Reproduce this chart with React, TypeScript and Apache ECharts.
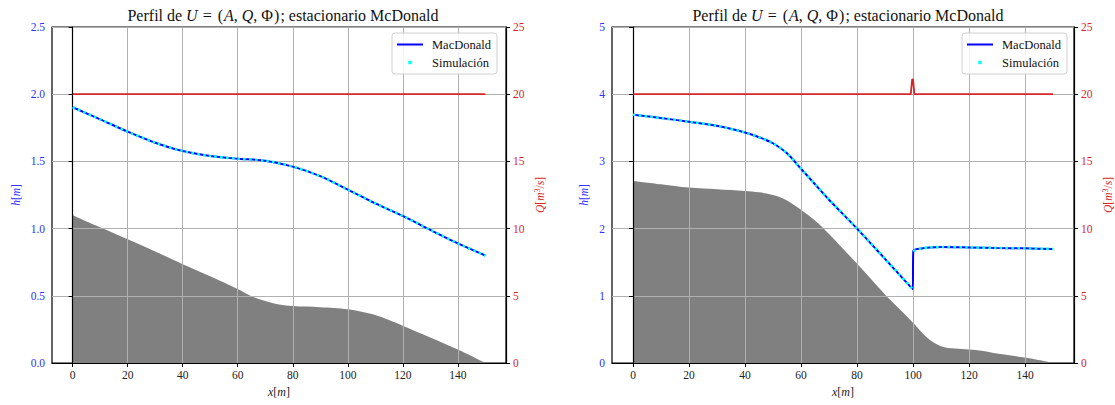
import React, { useEffect, useRef } from 'react';
import * as echarts from 'echarts';

const FONT = "'Liberation Serif', 'DejaVu Serif', serif";
const xTicks = [0, 20, 40, 60, 80, 100, 120, 140];

// Left chart
const leftBedX = [0, 10, 20, 30, 40, 50, 60, 65, 70, 75, 80, 85, 90, 95, 100, 105, 110, 115, 120, 130, 140, 150];
const leftBedZ = [1.10, 1.01, 0.92, 0.83, 0.735, 0.645, 0.55, 0.497, 0.462, 0.436, 0.425, 0.42, 0.415, 0.41, 0.40, 0.382, 0.357, 0.32, 0.278, 0.19, 0.10, 0.0];
const leftSurfX = [0, 10, 20, 30, 40, 50, 60, 70, 80, 90, 100, 110, 120, 130, 140, 150];
const leftSurfH = [1.903, 1.813, 1.721, 1.639, 1.577, 1.54, 1.52, 1.505, 1.461, 1.39, 1.29, 1.187, 1.094, 0.99, 0.89, 0.80];
const leftQX = [0, 150];
const leftQ = [20, 20];

// Right chart
const rightBedX = [0, 10, 20, 30, 40, 45, 50, 55, 60, 65, 70, 75, 80, 85, 90, 95, 100, 105, 110, 115, 120, 125, 130, 140, 150];
const rightBedZ = [2.71, 2.66, 2.61, 2.585, 2.56, 2.54, 2.5, 2.42, 2.28, 2.12, 1.92, 1.7, 1.48, 1.25, 1.02, 0.81, 0.6, 0.38, 0.25, 0.215, 0.2, 0.18, 0.14, 0.08, 0.0];
const rightSurfX = [0, 10, 20, 30, 40, 45, 50, 55, 60, 65, 70, 80, 90, 99.9, 100.1, 103, 106, 110, 120, 130, 140, 150];
const rightSurfH = [3.695, 3.645, 3.59, 3.53, 3.43, 3.36, 3.27, 3.12, 2.89, 2.66, 2.43, 2.0, 1.55, 1.1, 1.665, 1.705, 1.72, 1.726, 1.72, 1.712, 1.706, 1.696];
const rightQX = [0, 99.2, 99.7, 100.0, 100.5, 150];
const rightQ = [20, 20, 21.1, 21.1, 20, 20];
const jumpX = 100;

const zip = (xs: number[], ys: number[]) => xs.map((x, i) => [x, ys[i]]);
const withGap = (xs: number[], ys: number[], gx: number) => {
  const out: any[] = [];
  xs.forEach((x, i) => {
    if (i > 0 && xs[i - 1] < gx && x >= gx) out.push([gx, '-']);
    out.push([x, ys[i]]);
  });
  return out;
};

const BLUE_TXT = '#3030ff';
const RED = '#d62728';
const SIM_ICON = 'path://M0,0M26,12M11.3,4.3h3.4v3.4h-3.4z';
const LINE_ICON = 'path://M0,0M26,12M0,5h26v2h-26z';

const richItalic = (size: number, color: string) => ({
  i: { fontStyle: 'italic', fontSize: size, color, fontFamily: FONT },
  n: { fontSize: size, color, fontFamily: FONT },
  e: { fontSize: size, color, fontFamily: FONT, padding: [0, 5, 0, 5] },
  c: { fontSize: size, color, fontFamily: FONT, padding: [0, 4, 0, 0] },
  p: { fontSize: size, color, fontFamily: FONT, padding: [0, 1, 0, 1] },
  s: { fontSize: size * 0.7, color, fontFamily: FONT, verticalAlign: 'top', padding: [0, 0, 6, 0] },
});

export default function App() {
  const ref = useRef<HTMLDivElement>(null);
  useEffect(() => {
    const chart = echarts.init(ref.current!, undefined, { renderer: 'svg' });
    const grids = [
      { left: 52, top: 27, width: 454, height: 336 },
      { left: 612, top: 27, width: 462, height: 336 },
    ];
    const hMax = [2.5, 5];
    const hInt = [0.5, 1];
    const titleCenters = [278, 843];
    const legendLefts = [392, 962];

    const xAxes: any[] = [];
    const yAxes: any[] = [];
    const series: any[] = [];
    const titles: any[] = [];
    const legends: any[] = [];

    const datasets = [
      { bed: zip(leftBedX, leftBedZ), surf: zip(leftSurfX, leftSurfH), sim: zip(leftSurfX, leftSurfH), q: zip(leftQX, leftQ) },
      { bed: zip(rightBedX, rightBedZ), surf: zip(rightSurfX, rightSurfH), sim: withGap(rightSurfX, rightSurfH, jumpX), q: zip(rightQX, rightQ) },
    ];

    for (let g = 0; g < 2; g++) {
      xAxes.push({
        type: 'value', gridIndex: g, min: -7.5, max: 157.5, z: 2,
        name: '{i|x}[{i|m}]', nameLocation: 'middle', nameGap: 23,
        nameTextStyle: { rich: richItalic(12, '#222'), fontFamily: FONT, fontSize: 12, color: '#222' },
        axisLine: { show: true, onZero: false, lineStyle: { color: '#000', width: 1.2 } },
        axisTick: { show: true, length: 4, customValues: xTicks, lineStyle: { color: '#000' } },
        axisLabel: { customValues: xTicks, margin: 6, fontFamily: FONT, fontSize: 11.5, color: '#222' },
        splitLine: { show: true, lineStyle: { color: '#b0b0b0', width: 1 } },
      });
      yAxes.push({
        type: 'value', gridIndex: g, min: 0, max: hMax[g], interval: hInt[g], position: 'left', z: 2,
        name: '{i|h}[{i|m}]', nameLocation: 'middle', nameGap: g === 0 ? 30 : 22, nameRotate: 90,
        nameTextStyle: { rich: richItalic(11.5, BLUE_TXT), fontFamily: FONT, fontSize: 11.5, color: BLUE_TXT },
        axisLine: { show: true, lineStyle: { color: '#000', width: 1.2 } },
        axisTick: { show: true, length: 4, lineStyle: { color: '#000' } },
        axisLabel: { margin: 7, fontFamily: FONT, fontSize: 11.5, color: BLUE_TXT, formatter: (v: number) => g === 0 ? v.toFixed(1) : String(v) },
        splitLine: { show: true, lineStyle: { color: '#b0b0b0', width: 1 } },
      });
      yAxes.push({
        type: 'value', gridIndex: g, min: 0, max: 25, interval: 5, position: 'right', z: 2,
        name: '{i|Q}[{i|m}{s|3}/{i|s}]', nameLocation: 'middle', nameGap: 27, nameRotate: 90,
        nameTextStyle: { rich: richItalic(11.5, RED), fontFamily: FONT, fontSize: 11.5, color: RED },
        axisLine: { show: true, lineStyle: { color: '#000', width: 1.2 } },
        axisTick: { show: true, length: 4, lineStyle: { color: '#000' } },
        axisLabel: { margin: 7, fontFamily: FONT, fontSize: 11.5, color: RED },
        splitLine: { show: false },
      });
      const d = datasets[g];
      series.push({
        type: 'line', name: 'bed' + g, xAxisIndex: g, yAxisIndex: 2 * g, data: d.bed, z: 1, smooth: 0.35,
        symbol: 'none', lineStyle: { width: 0, color: '#808080' }, areaStyle: { color: '#808080', opacity: 1 },
        silent: true,
      });
      series.push({
        type: 'line', name: 'Q' + g, xAxisIndex: g, yAxisIndex: 2 * g + 1, data: d.q, z: 3,
        symbol: 'none', lineStyle: { width: 1.8, color: RED }, itemStyle: { color: RED },
      });
      series.push({
        type: 'line', name: 'MacDonald', xAxisIndex: g, yAxisIndex: 2 * g, data: d.surf, z: 4,
        symbol: 'none', smooth: 0.3, lineStyle: { width: 2, color: '#0000ff' }, itemStyle: { color: '#0000ff' },
      });
      series.push({
        type: 'line', name: 'Simulación', xAxisIndex: g, yAxisIndex: 2 * g, data: d.sim, z: 5,
        symbol: 'none', smooth: 0.3, connectNulls: false,
        lineStyle: { width: 2.6, color: '#00ffff', type: [2.6, 3.2] }, itemStyle: { color: '#00ffff' },
      });
      titles.push({
        text: 'Perfil de {i|U}{e|=}{p|(}{i|A}{c|,}{i|Q}{c|,}{n|Φ}{p|)}{c|;}estacionario McDonald',
        left: titleCenters[g], top: 2, textAlign: 'center',
        textStyle: { fontFamily: FONT, fontSize: 16, fontWeight: 'normal', color: '#111', rich: richItalic(16, '#111') },
      });
      legends.push({
        left: legendLefts[g], top: 33, orient: 'vertical',
        data: [
          { name: 'MacDonald', icon: LINE_ICON, itemStyle: { color: '#0000ff', borderWidth: 0 } },
          { name: 'Simulación', icon: SIM_ICON, itemStyle: { color: '#00ffff', borderWidth: 0 } },
        ],
        itemWidth: 26, itemHeight: 12, itemGap: 5, padding: [5, 6, 5, 5],
        borderColor: '#d0d0d0', borderWidth: 1, borderRadius: 3, backgroundColor: 'rgba(255,255,255,0.85)',
        textStyle: { fontFamily: FONT, fontSize: 12.5, color: '#111', padding: [0, 0, 0, 4] },
        selectedMode: false,
      });
    }

    chart.setOption({
      animation: false,
      backgroundColor: '#fff',
      title: titles,
      legend: legends,
      grid: grids.map((gr) => ({ ...gr, show: true, borderColor: '#000', borderWidth: 1.2, backgroundColor: 'transparent' })),
      xAxis: xAxes,
      yAxis: yAxes,
      series,
    });
    return () => chart.dispose();
  }, []);
  return <div ref={ref} style={{ position: 'fixed', left: 0, top: 0, width: 1115, height: 405 }} />;
}
